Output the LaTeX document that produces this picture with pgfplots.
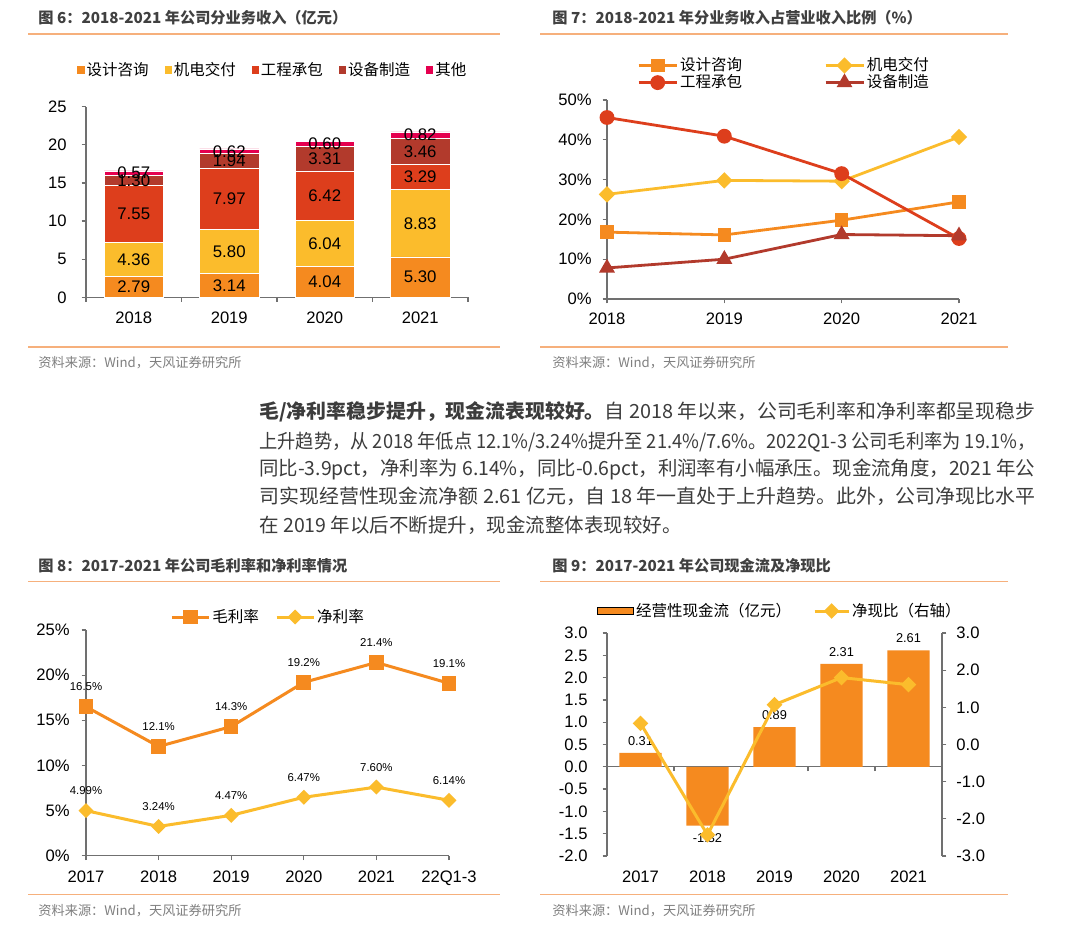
\documentclass[border=0pt]{standalone}
\usepackage{fontspec}
\setmainfont{Liberation Sans}
\newfontfamily\cjk{Noto Sans CJK SC}
\usepackage{graphicx}
\usepackage{pgfplots}
\pgfplotsset{compat=1.18}

\newcommand\fsz[1]{\fontsize{#1}{#1}\selectfont}
\definecolor{cOr}{HTML}{F58A1F}
\definecolor{cYe}{HTML}{FBBC2C}
\definecolor{cRd}{HTML}{DD3E1C}
\definecolor{cBr}{HTML}{B23A2C}
\definecolor{cPk}{HTML}{E5004F}
\definecolor{cLine}{HTML}{F6B07C}
\definecolor{cTitle}{HTML}{404040}
\definecolor{cSrc}{HTML}{808080}
\definecolor{cAx}{HTML}{707070}
\definecolor{cTxt}{HTML}{3C3C3C}

\pgfplotsset{
  base/.style={
    scale only axis, clip=false,
    axis lines*=left,
    axis line style={cAx, line width=0.6pt},
    tick style={cAx, line width=0.6pt},
    tick align=outside, major tick length=2.2pt,
    tick label style={font=\fsz{8.3}, text=black},
    /pgf/number format/assume math mode=true,
    legend cell align=left,
  },
}

\begin{document}
\begin{tikzpicture}
\begin{scope}[x=0.5pt,y=0.5pt]
\fill[white] (0,0) rectangle (1084,938);
\path[use as bounding box] (0,0) rectangle (1084,938);

% titles, rules, sources
\node[anchor=west, inner sep=0, text=cTitle, font=\cjk\bfseries\fsz{7.6}] at (38,920) {图 6：2018-2021 年公司分业务收入（亿元）};
\draw[cLine, line width=0.75pt] (28,904) -- (500,904);
\draw[cLine, line width=0.75pt] (28,591) -- (500,591);
\node[anchor=west, inner sep=0, text=cSrc, font=\cjk\fsz{6.6}] at (38,575) {资料来源：Wind，天风证券研究所};

\node[anchor=west, inner sep=0, text=cTitle, font=\cjk\bfseries\fsz{7.6}] at (552,920) {图 7：2018-2021 年分业务收入占营业收入比例（\%）};
\draw[cLine, line width=0.75pt] (540,904) -- (1008,904);
\draw[cLine, line width=0.75pt] (540,591) -- (1008,591);
\node[anchor=west, inner sep=0, text=cSrc, font=\cjk\fsz{6.6}] at (552,575) {资料来源：Wind，天风证券研究所};

\node[anchor=west, inner sep=0, text=cTitle, font=\cjk\bfseries\fsz{7.6}] at (38,372) {图 8：2017-2021 年公司毛利率和净利率情况};
\draw[cLine, line width=0.75pt] (28,356.3) -- (500,356.3);
\draw[cLine, line width=0.75pt] (28,43.7) -- (500,43.7);
\node[anchor=west, inner sep=0, text=cSrc, font=\cjk\fsz{6.6}] at (38,27) {资料来源：Wind，天风证券研究所};

\node[anchor=west, inner sep=0, text=cTitle, font=\cjk\bfseries\fsz{7.6}] at (552,372) {图 9：2017-2021 年公司现金流及净现比};
\draw[cLine, line width=0.75pt] (540,356.3) -- (1008,356.3);
\draw[cLine, line width=0.75pt] (540,43.7) -- (1008,43.7);
\node[anchor=west, inner sep=0, text=cSrc, font=\cjk\fsz{6.6}] at (552,27) {资料来源：Wind，天风证券研究所};

% paragraph
\begin{scope}[every node/.style={anchor=west, inner sep=0, text=cTxt, font=\cjk\fsz{9.75}}]
\node at (259,526.3) {\resizebox{388pt}{\height}{{\bfseries 毛/净利率稳步提升，现金流表现较好。}自 2018 年以来，公司毛利率和净利率都呈现稳步}};
\node at (259,496.3) {\resizebox{388pt}{\height}{上升趋势，从 2018 年低点 12.1\%/3.24\%提升至 21.4\%/7.6\%。2022Q1-3 公司毛利率为 19.1\%，}};
\node at (259,468.7) {\resizebox{388pt}{\height}{同比-3.9pct，净利率为 6.14\%，同比-0.6pct，利润率有小幅承压。现金流角度，2021 年公}};
\node at (259,441.3) {\resizebox{388pt}{\height}{司实现经营性现金流净额 2.61 亿元，自 18 年一直处于上升趋势。此外，公司净现比水平}};
\node at (259,413) {在 2019 年以后不断提升，现金流整体表现较好。};
\end{scope}
\end{scope}

% ================= Fig 6 =================
\begin{axis}[base, at={(43pt,320.35pt)}, anchor=south west, width=191pt, height=95.3pt,
  ybar stacked, bar width=0.62, xmin=-0.5, xmax=3.5, ymin=0, ymax=25,
  ytick={0,5,...,25}, xtick={-0.5,0.5,...,3.5}, x tick label as interval,
  xticklabels={2018,2019,2020,2021},
  yticklabel style={xshift=-4pt}, xticklabel style={yshift=-1.75pt},
  legend columns=5,
  legend style={at={(-0.0236,1.1925)}, anchor=west, draw=none, fill=none, inner sep=0pt,
    font=\cjk\fsz{7.75}, nodes={inner sep=1pt},
    /tikz/every even column/.append style={column sep=7pt}},
  legend image code/.code={\path[#1, draw=none] (0pt,-1.8pt) rectangle (3.6pt,1.8pt);},
]
\addplot[fill=cOr, draw=white, line width=0.3pt] coordinates {(0,2.79)(1,3.14)(2,4.04)(3,5.30)};
\addplot[fill=cYe, draw=white, line width=0.3pt] coordinates {(0,4.36)(1,5.80)(2,6.04)(3,8.83)};
\addplot[fill=cRd, draw=white, line width=0.3pt] coordinates {(0,7.55)(1,7.97)(2,6.42)(3,3.29)};
\addplot[fill=cBr, draw=white, line width=0.3pt] coordinates {(0,1.30)(1,1.94)(2,3.31)(3,3.46)};
\addplot[fill=cPk, draw=white, line width=0.3pt] coordinates {(0,0.57)(1,0.62)(2,0.60)(3,0.82)};
\legend{设计咨询,机电交付,工程承包,设备制造,其他}
\end{axis}
\begin{axis}[scale only axis, clip=false, hide axis, at={(43pt,320.35pt)}, anchor=south west, width=191pt, height=95.3pt,
  xmin=-0.5, xmax=3.5, ymin=0, ymax=25]
\addplot[draw=none, nodes near coords, point meta=explicit symbolic,
  every node near coord/.append style={font=\fsz{8.4}, text=black, anchor=center}]
  coordinates {(0,1.395)[2.79] (0,4.97)[4.36] (0,10.925)[7.55] (0,15.35)[1.30] (0,16.285)[0.57]
               (1,1.57)[3.14] (1,6.04)[5.80] (1,12.925)[7.97] (1,17.88)[1.94] (1,19.16)[0.62]
               (2,2.02)[4.04] (2,7.06)[6.04] (2,13.29)[6.42] (2,18.155)[3.31] (2,20.11)[0.60]
               (3,2.65)[5.30] (3,9.715)[8.83] (3,15.775)[3.29] (3,19.15)[3.46] (3,21.29)[0.82]};
\end{axis}

% ================= Fig 7 =================
\begin{axis}[base, at={(303.5pt,319.5pt)}, anchor=south west, width=176pt, height=99.5pt,
  xmin=0, xmax=3, ymin=0, ymax=50,
  xtick={0,1,2,3}, xticklabels={2018,2019,2020,2021},
  ytick={0,10,...,50}, yticklabel={\pgfmathprintnumber{\tick}\%},
  yticklabel style={xshift=-2pt}, xticklabel style={yshift=-1pt},
  legend columns=2,
  legend style={at={(0.085,1.226)}, anchor=north west, draw=none, fill=none, inner sep=0pt,
    font=\cjk\fsz{7.75}, nodes={inner sep=1pt}, row sep=-1.5pt,
    /tikz/every even column/.append style={column sep=40pt}},
  legend image code/.code={\draw[mark repeat=2, mark phase=2, #1] plot coordinates {(0pt,0pt)(9.5pt,0pt)(19pt,0pt)};},
]
\addplot[cOr, line width=1.4pt, mark=square*, mark size=2.7pt] coordinates {(0,16.8)(1,16.1)(2,19.8)(3,24.4)};
\addplot[cYe, line width=1.4pt, mark=square*, mark options={rotate=45}, mark size=2.2pt] coordinates {(0,26.3)(1,29.8)(2,29.6)(3,40.7)};
\addplot[cRd, line width=1.4pt, mark=*, mark size=3pt] coordinates {(0,45.6)(1,40.9)(2,31.5)(3,15.2)};
\addplot[cBr, line width=1.4pt, mark=triangle*, mark size=3.2pt] coordinates {(0,7.8)(1,10.0)(2,16.2)(3,15.9)};
\legend{设计咨询,机电交付,工程承包,设备制造}
\end{axis}

% ================= Fig 8 =================
\begin{axis}[base, at={(43pt,41.15pt)}, anchor=south west, width=181.5pt, height=112.85pt,
  xmin=0, xmax=5, ymin=0, ymax=25,
  xtick={0,1,2,3,4,5}, xticklabels={2017,2018,2019,2020,2021,22Q1-3},
  ytick={0,5,...,25}, yticklabel={\pgfmathprintnumber{\tick}\%},
  yticklabel style={xshift=-2.5pt}, xticklabel style={yshift=-1.7pt},
  legend columns=2,
  legend style={at={(0.231,1.0576)}, anchor=west, draw=none, fill=none, inner sep=0pt,
    font=\cjk\fsz{7.8}, nodes={inner sep=1pt},
    /tikz/every even column/.append style={column sep=7pt}},
  legend image code/.code={\draw[mark repeat=2, mark phase=2, #1] plot coordinates {(0pt,0pt)(9.25pt,0pt)(18.5pt,0pt)};},
]
\addplot[cOr, line width=1.5pt, mark=square*, mark size=2.9pt,
  nodes near coords={\pgfmathprintnumber[fixed,zerofill,precision=1]{\pgfplotspointmeta}\%},
  every node near coord/.append style={font=\fsz{5.7}, text=black, anchor=center, yshift=10pt}]
  coordinates {(0,16.5)(1,12.1)(2,14.3)(3,19.2)(4,21.4)(5,19.1)};
\addplot[cYe, line width=1.5pt, mark=square*, mark options={rotate=45}, mark size=1.9pt,
  nodes near coords={\pgfmathprintnumber[fixed,zerofill,precision=2]{\pgfplotspointmeta}\%},
  every node near coord/.append style={font=\fsz{5.7}, text=black, anchor=center, yshift=10pt}]
  coordinates {(0,4.99)(1,3.24)(2,4.47)(3,6.47)(4,7.60)(5,6.14)};
\legend{毛利率,净利率}
\end{axis}

% ================= Fig 9 =================
\begin{axis}[base, at={(303.5pt,41pt)}, anchor=south west, width=167.5pt, height=111.5pt,
  ybar, bar width=0.63, xmin=-0.5, xmax=4.5, ymin=-2, ymax=3,
  axis x line*=middle, axis y line*=left,
  xtick={0.5,1.5,2.5,3.5}, xticklabels={},
  ytick={-2,-1.5,...,3},
  yticklabel style={xshift=-4pt, /pgf/number format/.cd, fixed, zerofill, precision=1},
  nodes near coords={\pgfmathprintnumber[fixed,zerofill,precision=2]{\pgfplotspointmeta}},
  every node near coord/.append style={font=\fsz{6.4}, text=black, inner ysep=3.5pt},
]
\addplot[fill=cOr, draw=none] coordinates {(0,0.31)(1,-1.32)(2,0.89)(3,2.31)(4,2.61)};
\end{axis}
\begin{axis}[base, at={(303.5pt,41pt)}, anchor=south west, width=167.5pt, height=111.5pt,
  xmin=-0.5, xmax=4.5, ymin=-3, ymax=3,
  axis y line*=right, axis x line*=bottom, x axis line style={opacity=0},
  xtick={0,1,2,3,4}, xticklabels={2017,2018,2019,2020,2021}, xtick style={draw=none},
  ytick={-3,-2,...,3},
  yticklabel style={xshift=1.5pt, /pgf/number format/.cd, fixed, zerofill, precision=1},
  xticklabel style={yshift=-1.5pt},
  legend columns=2,
  legend style={at={(-0.03,1.0987)}, anchor=west, draw=none, fill=none, inner sep=0pt,
    font=\cjk\fsz{7.75}, nodes={inner sep=1pt},
    /tikz/every even column/.append style={column sep=10pt}},
  legend image code/.code={\draw[mark repeat=2, mark phase=2, #1] plot coordinates {(0pt,0pt)(8.5pt,0pt)(17pt,0pt)};},
]
\addlegendimage{legend image code/.code={\path[fill=cOr] (0pt,-1.75pt) rectangle (18pt,1.75pt);}}
\addlegendentry{经营性现金流（亿元）}
\addplot[cYe, line width=1.5pt, mark=square*, mark options={rotate=45}, mark size=2pt]
  coordinates {(0,0.57)(1,-2.43)(2,1.07)(3,1.80)(4,1.61)};
\addlegendentry{净现比（右轴）}
\end{axis}

\end{tikzpicture}
\end{document}
